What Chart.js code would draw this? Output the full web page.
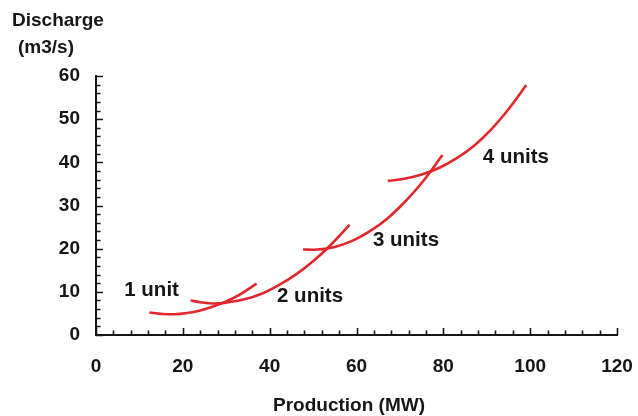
<!DOCTYPE html>
<html>
<head>
<meta charset="utf-8">
<script src="https://cdn.jsdelivr.net/npm/chart.js@4.4.1/dist/chart.umd.min.js"></script>
<style>
  html, body { margin: 0; padding: 0; background: #ffffff; }
  #wrap { width: 638px; height: 416px; }
</style>
</head>
<body>
<div id="wrap"><canvas id="chart" width="638" height="416"></canvas></div>
<script>
// Turbine discharge vs. plant production, one curve per number of running units.
// Each point: [production (MW), discharge (m3/s)]
const oneUnit    = [[12.3, 5.2], [15, 4.9], [18, 4.8], [21, 5.1], [24, 5.7], [27, 6.6], [30, 7.8], [33, 9.3], [37, 11.9]];
const twoUnits   = [[21.8, 8.0], [24, 7.6], [27, 7.3], [30, 7.5], [34, 8.2], [38, 9.5], [42, 11.5], [46, 14.0], [50, 17.1], [54, 20.8], [58.4, 25.5]];
const threeUnits = [[47.7, 19.8], [51, 19.8], [55, 20.4], [59, 21.8], [63, 24.0], [67, 26.9], [71, 30.7], [75, 35.2], [79.8, 41.7]];
const fourUnits  = [[67.2, 35.7], [71, 36.2], [75, 37.2], [79, 38.7], [83, 40.9], [87, 43.8], [91, 47.6], [95, 52.3], [99.1, 57.9]];

// Curve captions and where they sit (in data units)
const captionText = ['1 unit', '2 units', '3 units', '4 units'];
const captionX = [12.8, 49.3, 71.4, 96.7];
const captionY = [10.4, 9.0, 22.0, 41.2];

// Axis ranges and tick spacing
const xRange = [0, 120];
const yRange = [0, 60];
const xMajorStep = 20, xMinorStep = 4;
const yMajorStep = 10, yMinorStep = 2;

const RED = '#e1262c';
const INK = '#161616';
const FAMILY = '"Liberation Sans", Arial, sans-serif';
const FONT = { family: FAMILY, size: 19, weight: 'bold' };

const toXY = pts => pts.map(p => ({ x: p[0], y: p[1] }));

// Inward tick marks, curve captions and axis titles
const overlay = {
  id: 'overlay',
  afterDraw(chart) {
    const { ctx, scales: { x, y }, chartArea: area } = chart;
    ctx.save();
    ctx.strokeStyle = INK;
    ctx.lineWidth = 1.6;
    ctx.beginPath();
    for (let v = xRange[0]; v <= xRange[1]; v += xMinorStep) {
      const px = Math.round(x.getPixelForValue(v)) + 0.5;
      const len = v % xMajorStep === 0 ? 7 : 4.5;
      ctx.moveTo(px, area.bottom);
      ctx.lineTo(px, area.bottom - len);
    }
    for (let v = yRange[0]; v <= yRange[1]; v += yMinorStep) {
      const py = Math.round(y.getPixelForValue(v)) + 0.5;
      const len = v % yMajorStep === 0 ? 7 : 4.5;
      ctx.moveTo(area.left, py);
      ctx.lineTo(area.left + len, py);
    }
    ctx.stroke();

    ctx.fillStyle = INK;
    ctx.font = 'bold 20.5px ' + FAMILY;
    ctx.textAlign = 'center';
    ctx.textBaseline = 'middle';
    captionText.forEach((t, i) => {
      ctx.fillText(t, x.getPixelForValue(captionX[i]), y.getPixelForValue(captionY[i]));
    });

    ctx.font = 'bold 19px ' + FAMILY;
    ctx.textAlign = 'left';
    ctx.textBaseline = 'alphabetic';
    ctx.fillText('Discharge', 12, 26);
    ctx.fillText('(m3/s)', 18, 53);
    ctx.fillText('Production (MW)', 273, 411);
    ctx.restore();
  }
};

const curve = (label, pts) => ({
  label,
  data: toXY(pts),
  borderColor: RED,
  borderWidth: 2.6,
  pointRadius: 0,
  fill: false,
  tension: 0.4
});

new Chart(document.getElementById('chart'), {
  type: 'line',
  data: {
    datasets: [
      curve('1 unit', oneUnit),
      curve('2 units', twoUnits),
      curve('3 units', threeUnits),
      curve('4 units', fourUnits)
    ]
  },
  options: {
    responsive: false,
    animation: false,
    events: [],
    layout: { padding: { left: 0, top: 76, right: 21, bottom: 0 } },
    plugins: {
      legend: { display: false },
      tooltip: { enabled: false },
      title: { display: false }
    },
    scales: {
      x: {
        type: 'linear',
        min: xRange[0],
        max: xRange[1],
        grid: { display: false, drawTicks: false },
        border: { display: true, color: INK, width: 2 },
        ticks: { stepSize: xMajorStep, color: INK, font: FONT, padding: 20, maxRotation: 0 },
        afterFit: s => { s.height = 81; s.paddingLeft = 0; s.paddingRight = 0; }
      },
      y: {
        type: 'linear',
        min: yRange[0],
        max: yRange[1],
        grid: { display: false, drawTicks: false },
        border: { display: true, color: INK, width: 2 },
        ticks: { stepSize: yMajorStep, color: INK, font: FONT, padding: 16 },
        afterFit: s => { s.width = 96; s.paddingTop = 0; s.paddingBottom = 0; }
      }
    }
  },
  plugins: [overlay]
});
</script>
</body>
</html>
